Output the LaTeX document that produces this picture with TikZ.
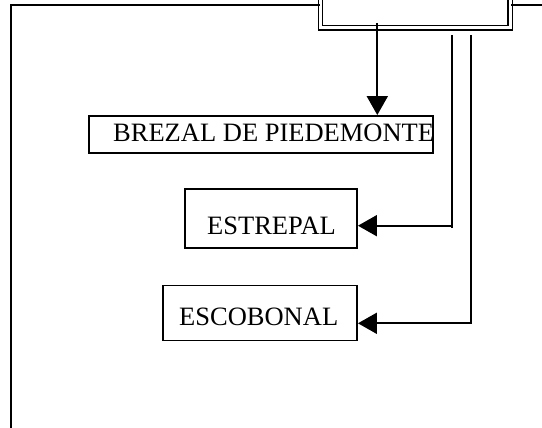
\documentclass[tikz,border=0pt]{standalone}
\usepackage{fontspec}
\setmainfont{Liberation Serif}
\usetikzlibrary{arrows.meta}
\begin{document}
\begin{tikzpicture}[x=1pt,y=-1pt,
  box/.style={draw, rectangle, inner sep=0pt, line width=1.9pt},
  lbl/.style={anchor=base west, inner sep=0pt, font=\fontsize{26.5}{30}\selectfont},
  ln/.style={line width=1.9pt},
  arr/.style={line width=1.9pt, -{Triangle[length=19pt,width=21pt]}}]
\useasboundingbox (0,0) rectangle (542,428);
\clip (0,0) rectangle (542,428);
% top double box
\node[draw, double, double distance=3pt, line width=1.4pt, rectangle, inner sep=0pt,
      minimum width=189.8pt, minimum height=67.7pt] (tbox) at (415.4,-6.15) {};
% frame
\coordinate (fbl) at (11,440);
\coordinate (ftl) at (11,5);
\coordinate (ftr) at (560,5);
\draw[ln] (fbl) -- (ftl) -- (ftl -| tbox.west);
\draw[ln] (ftr -| tbox.east) -- (ftr);
% boxes
\node[box, minimum width=343.4pt, minimum height=37pt] (brezal) at (261,134.5) {};
\node[lbl] (tbrezal) at (113,141.7) {BREZAL DE PIEDEMONTE};
\node[box, minimum width=172pt, minimum height=59pt] (estrepal) at (271,218.5) {};
\node[lbl] (testrepal) at (207,234.3) {ESTREPAL};
\node[box, minimum width=194pt, minimum height=55pt] (escobonal) at (260,313) {};
\node[lbl] (tescobonal) at (179,326) {ESCOBONAL};
% connectors
\coordinate (a0) at (377.3,23);
\draw[arr] (a0) -- (a0 |- brezal.north);
\coordinate (v1top) at (451.7,35);
\coordinate (v1bot) at (451.7,227.7);
\coordinate (v1mid) at (451.7,225.7);
\draw[ln] (v1top) -- (v1bot);
\draw[arr] (v1mid) -- (v1mid -| estrepal.east);
\coordinate (v2top) at (471.2,35);
\coordinate (v2bot) at (471.2,323.3);
\draw[arr] (v2top) -- (v2bot) -- (v2bot -| escobonal.east);
\end{tikzpicture}
\end{document}
